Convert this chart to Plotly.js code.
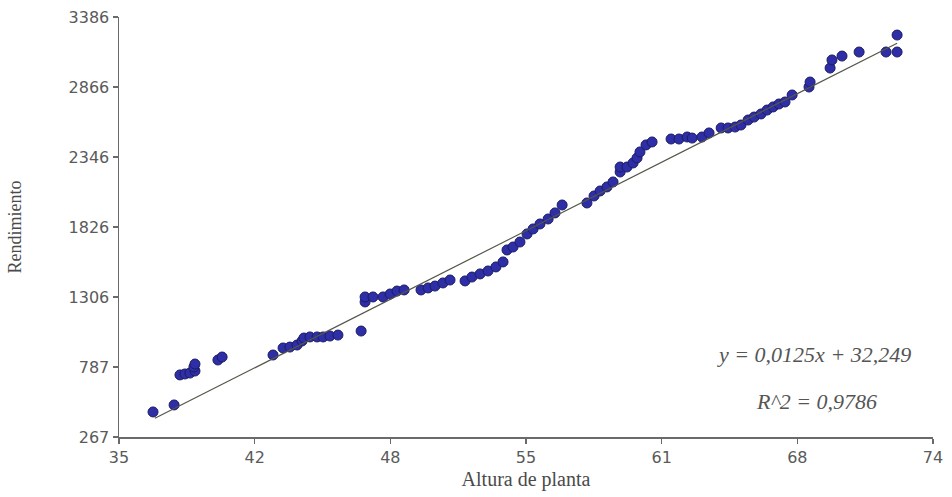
<!DOCTYPE html>
<html>
<head>
<meta charset="utf-8">
<script src="https://cdn.plot.ly/plotly-3.0.1.min.js"></script>
<style>html,body{margin:0;padding:0;background:#fff;}#chart{width:952px;height:497px;}</style>
</head>
<body>
<div id="chart"></div>
<script>
// Altura de planta (x) values
const alturaX = [
  36.63, 37.64, 37.92, 38.16, 38.40, 38.64, 38.59, 38.64, 39.74, 39.94,
  42.38, 42.86, 43.19, 43.53, 43.77, 43.86, 44.15, 44.49, 44.78, 45.11,
  45.49, 46.60, 46.79, 46.79, 47.17, 47.65, 47.99, 48.32, 48.66, 49.47,
  49.81, 50.14, 50.52, 50.86, 51.58, 51.91, 52.30, 52.68, 53.06, 53.40,
  53.59, 53.88, 54.21, 54.55, 54.84, 55.17, 55.56, 55.89, 56.23, 57.42,
  57.76, 58.05, 58.38, 58.67, 59.01, 59.01, 59.34, 59.63, 59.82, 59.96,
  60.25, 60.54, 61.45, 61.83, 62.22, 62.46, 62.93, 63.27, 63.85, 64.18,
  64.52, 64.80, 65.14, 65.43, 65.76, 66.05, 66.34, 66.62, 66.91, 67.25,
  68.06, 68.11, 69.07, 69.16, 69.64, 70.46, 71.75, 72.28, 72.28
];
// Rendimiento (y) values
const rendimientoY = [
  453, 505, 728, 735, 742, 757, 787, 809, 839, 861,
  876, 928, 935, 950, 980, 1002, 1010, 1010, 1010, 1017,
  1024, 1054, 1270, 1307, 1307, 1307, 1329, 1351, 1359, 1359,
  1374, 1388, 1411, 1433, 1426, 1455, 1478, 1500, 1530, 1567,
  1656, 1678, 1715, 1775, 1812, 1849, 1886, 1931, 1990, 2005,
  2057, 2094, 2124, 2161, 2235, 2272, 2272, 2302, 2339, 2384,
  2436, 2458, 2480, 2480, 2495, 2487, 2495, 2525, 2562, 2562,
  2569, 2584, 2621, 2643, 2666, 2695, 2718, 2740, 2755, 2807,
  2866, 2903, 3007, 3067, 3096, 3126, 3126, 3126, 3252
];
// Trend line end points
const trendX = [36.72, 72.28];
const trendY = [406, 3191];

// Axis ticks
const xTickVals = [35, 41.5, 48, 54.5, 61, 67.5, 74];
const xTickText = ['35', '42', '48', '55', '61', '68', '74'];
const yTickVals = [267, 786.83, 1306.67, 1826.5, 2346.33, 2866.17, 3386];
const yTickText = ['267', '787', '1306', '1826', '2346', '2866', '3386'];

const eqText = 'y = 0,0125x + 32,249';
const r2Text = 'R^2 = 0,9786';

const traces = [
  {
    x: alturaX, y: rendimientoY, type: 'scatter', mode: 'markers',
    marker: {size: 10, color: '#2e2ea6', line: {color: '#1c1c66', width: 1}},
    cliponaxis: false, showlegend: false, hoverinfo: 'x+y'
  },
  {
    x: trendX, y: trendY, type: 'scatter', mode: 'lines',
    line: {color: '#55554a', width: 1.2}, showlegend: false, hoverinfo: 'skip'
  }
];

const axisCommon = {
  showgrid: false, zeroline: false, showline: true,
  linecolor: '#6a6a6a', linewidth: 1.5,
  ticks: 'outside', ticklen: 5, tickwidth: 1.2, tickcolor: '#6a6a6a',
  tickfont: {family: 'DejaVu Sans, Liberation Sans, Arial, sans-serif', size: 16, color: '#5a5a5a'},
  tickmode: 'array', fixedrange: true
};

const layout = {
  width: 952, height: 497,
  margin: {l: 119, r: 19, t: 17, b: 60},
  paper_bgcolor: '#ffffff', plot_bgcolor: '#ffffff',
  xaxis: Object.assign({}, axisCommon, {
    range: [35, 74], tickvals: xTickVals, ticktext: xTickText,
    title: {text: 'Altura de planta', standoff: 6,
      font: {family: 'Liberation Serif, Times New Roman, serif', size: 20, color: '#4a4a4a'}}
  }),
  yaxis: Object.assign({}, axisCommon, {
    range: [267, 3386], tickvals: yTickVals, ticktext: yTickText,
    title: {text: 'Rendimiento', standoff: 42,
      font: {family: 'Liberation Serif, Times New Roman, serif', size: 18, color: '#4a4a4a'}}
  }),
  annotations: [
    {x: 68.30, y: 876, xref: 'x', yref: 'y', text: eqText, showarrow: false,
     xanchor: 'center', yanchor: 'middle',
     font: {family: 'Liberation Serif, Times New Roman, serif', size: 22, color: '#555555', style: 'italic'}},
    {x: 68.44, y: 527, xref: 'x', yref: 'y', text: r2Text, showarrow: false,
     xanchor: 'center', yanchor: 'middle',
     font: {family: 'Liberation Serif, Times New Roman, serif', size: 22, color: '#555555', style: 'italic'}}
  ]
};

Plotly.newPlot('chart', traces, layout, {displayModeBar: false, staticPlot: true});
</script>
</body>
</html>
